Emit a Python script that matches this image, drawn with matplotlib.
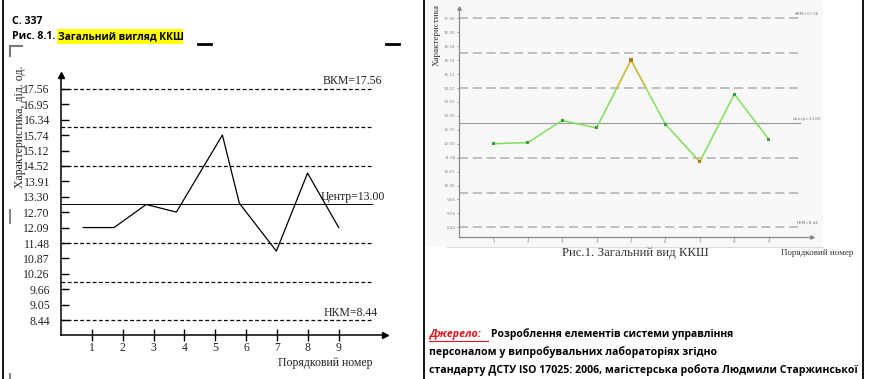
"""
Two control-chart pictures (ККШ) side by side, as on a document page.
Left: black hand-drawn style chart. Right: the small grey/green original.
"""

import matplotlib.pyplot as plt
from matplotlib.patches import Rectangle

W, H = 870, 379

# ---- data -----------------------------------------------------------------
y_ticks = [8.44, 9.05, 9.66, 10.26, 10.87, 11.48, 12.09, 12.70, 13.30,
           13.91, 14.52, 15.12, 15.74, 16.34, 16.95, 17.56]
x_ticks = [1, 2, 3, 4, 5, 6, 7, 8, 9]

centre = 13.00
ucl = 17.56
lcl = 8.44
zone_lines = [17.56, 16.04, 14.52, 11.48, 9.96, 8.44]

# left chart (redrawn): vertex positions as they appear on the page
left_x = [0.72, 1.72, 2.76, 3.74, 5.23, 5.78, 6.98, 7.99, 9.0]
left_y = [12.09, 12.09, 13.00, 12.70, 15.74, 13.05, 11.16, 14.24, 12.09]

# right chart (original)
right_x = [1, 2, 3, 4, 5, 6, 7, 8, 9]
right_y = [12.09, 12.14, 13.10, 12.78, 15.74, 12.94, 11.30, 14.25, 12.29]

SERIF = ["Liberation Serif", "DejaVu Serif"]
SANS = ["Open Sans", "DejaVu Sans"]


def px_axes(fig, x0, y0, x1, y1):
    return fig.add_axes([x0 / W, 1 - y1 / H, (x1 - x0) / W, (y1 - y0) / H])


fig = plt.figure(figsize=(W / 100, H / 100), dpi=100)

# page layer in pixel coordinates
bg = fig.add_axes([0, 0, 1, 1])
bg.set_xlim(0, W)
bg.set_ylim(H, 0)
bg.axis("off")

for x in (3, 424, 863):
    bg.plot([x, x], [0, H], color="black", lw=1.3)

# right picture background
bg.add_patch(Rectangle((425, 0), 398, 247, facecolor="#f8f8f8", edgecolor="none"))
bg.plot([447, 823], [247, 247], color="#dddddd", lw=0.8)

# header, left cell
bg.text(12, 21, "С. 337", family=SANS, weight="bold", fontsize=7.6, va="center")
bg.add_patch(Rectangle((57, 29), 126, 15, facecolor="#ffff00", edgecolor="none"))
bg.text(12, 36.5, "Рис. 8.1.", family=SANS, weight="bold", fontsize=7.6, va="center")
bg.text(58, 36.5, "Загальний вигляд ККШ", family=SANS, weight="bold",
        fontsize=7.4, va="center")
bg.plot([198, 211], [44, 44], color="black", lw=2)
bg.plot([386, 399], [44, 44], color="black", lw=2)
bg.plot([10, 22, 10, 10], [46, 46, 46, 56], color="#777777", lw=1.5)
bg.plot([10, 10], [210, 223], color="#888888", lw=1.5)
bg.plot([10, 10], [374, 379], color="#888888", lw=1.5)

# ---- left chart -----------------------------------------------------------
ax = px_axes(fig, 61, 75, 385, 335)
ax.set_xlim(0, 10.5)
ax.set_ylim(7.85, 18.11)
ax.patch.set_alpha(0)
for s in ("top", "right"):
    ax.spines[s].set_visible(False)
for s in ("left", "bottom"):
    ax.spines[s].set_linewidth(1.1)
ax.plot(0, 1, "^", color="black", ms=4, transform=ax.transAxes, clip_on=False)
ax.plot(1, 0, ">", color="black", ms=4, transform=ax.transAxes, clip_on=False)

for v in zone_lines:
    ax.plot([0, 10.07], [v, v], color="black", lw=0.9, ls=(0, (3, 2)))
ax.plot([0, 10.07], [centre, centre], color="black", lw=0.7)
ax.plot(left_x, left_y, color="black", lw=0.9)

ax.set_yticks(y_ticks)
ax.set_yticklabels([f"{v:.2f}" for v in y_ticks], family=SERIF, fontsize=8.5,
                   color="#222222")
ax.tick_params(axis="y", direction="in", length=6, width=1, pad=8)
ax.set_xticks(x_ticks)
ax.set_xticklabels([str(v) for v in x_ticks], family=SERIF, fontsize=8.5,
                   color="#222222")
ax.tick_params(axis="x", direction="inout", length=8, width=1, pad=1)

bg.text(382, 81, f"ВКМ={ucl:.2f}", family=SERIF, fontsize=8.5, ha="right",
        va="center", color="#222222")
bg.text(385, 197, f"Центр={centre:.2f}", family=SERIF, fontsize=8.5, ha="right",
        va="center", color="#222222")
bg.text(378, 313, f"НКМ={lcl:.2f}", family=SERIF, fontsize=8.5, ha="right",
        va="center", color="#222222")
bg.text(325, 363, "Порядковий номер", family=SERIF, fontsize=8.5, ha="center",
        va="center", color="#222222")
bg.text(20, 127, "Характеристика, дiд. од.", family=SERIF, fontsize=8.5,
        rotation=90, ha="center", va="center", color="#222222")

# ---- right chart ----------------------------------------------------------
ar = px_axes(fig, 459, 8, 812, 237)
ar.set_xlim(0, 10.26)
ar.set_ylim(8.02, 18.01)
ar.patch.set_alpha(0)
for s in ("top", "right"):
    ar.spines[s].set_visible(False)
for s in ("left", "bottom"):
    ar.spines[s].set_color("#8a8a8a")
    ar.spines[s].set_linewidth(0.9)
ar.plot(0, 1, "^", color="#8a8a8a", ms=2.5, transform=ar.transAxes, clip_on=False)
ar.plot(1, 0, ">", color="#8a8a8a", ms=2.5, transform=ar.transAxes, clip_on=False)

for v in zone_lines:
    ar.plot([0, 9.91], [v, v], color="#b0b0b0", lw=1.1, ls=(0, (6, 3)))
ar.plot([0, 9.91], [centre, centre], color="#a0a0a0", lw=0.9)

ar.plot(right_x, right_y, color="#7ee05a", lw=1.1, zorder=3)
# parts beyond the 2-sigma lines are drawn in amber
for lo, hi in ((14.52, 20), (0, 11.48)):
    seg, = ar.plot(right_x, right_y, color="#d9b94a", lw=1.1, zorder=4)
    clip = Rectangle((0, lo), 11, hi - lo, transform=ar.transData)
    seg.set_clip_path(clip)
mark_col = ["#3aa03a"] * len(right_x)
mark_col[4] = "#b07a10"
mark_col[6] = "#b07a10"
ar.scatter(right_x, right_y, s=5, marker="s", c=mark_col, zorder=5, linewidths=0)

ar.set_yticks(y_ticks)
ar.set_yticklabels([f"{v:.2f}" for v in y_ticks], fontsize=3, color="#888888")
ar.set_xticks(x_ticks)
ar.set_xticklabels([str(v) for v in x_ticks], fontsize=3, color="#888888")
ar.tick_params(length=1.5, width=0.6, pad=1, color="#8a8a8a")

bg.text(795, 14, f"ВКМ={ucl:.2f}", fontsize=3, color="#777777", va="center")
bg.text(793, 119, f"Центр={centre:.2f}", fontsize=3, color="#777777", va="center")
bg.text(797, 223, f"НКМ={lcl:.2f}", fontsize=3, color="#777777", va="center")
bg.text(437, 35, "Характеристика", family=SERIF, fontsize=6.5, rotation=90,
        ha="center", va="center", color="#333333")
bg.text(635, 253, "Рис.1. Загальний вид ККШ", family=SERIF, fontsize=9.2,
        ha="center", va="center", color="#333333")
bg.text(817, 253, "Порядковий номер", family=SERIF, fontsize=6.5,
        ha="center", va="center", color="#333333")

# ---- source note ----------------------------------------------------------
bg.text(429, 334, "Джерело:", family=SANS, weight="bold", style="italic",
        fontsize=7.7, color="#e8141b", va="center")
bg.text(491, 334, "Розроблення елементів системи управління", family=SANS,
        weight="bold", fontsize=7.5, va="center")
bg.text(429, 352, "персоналом у випробувальних лабораторіях згідно", family=SANS,
        weight="bold", fontsize=7.6, va="center")
bg.text(429, 370, "стандарту ДСТУ ISO 17025: 2006, магістерська робота Людмили Старжинської",
        family=SANS, weight="bold", fontsize=7.55, va="center")
bg.plot([429, 488], [341, 341], color="#e8141b", lw=0.8)

fig.savefig("out.png", dpi=100)
